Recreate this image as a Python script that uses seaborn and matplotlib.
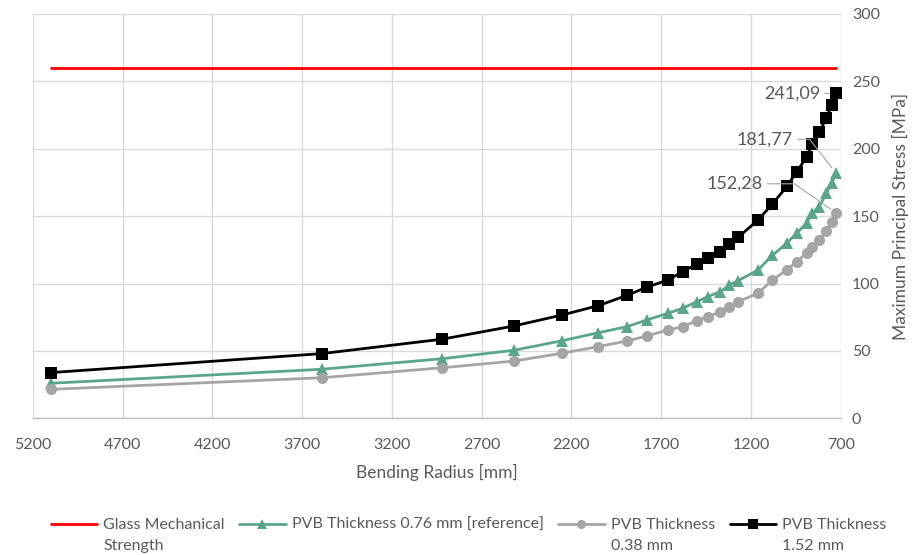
import numpy as np
import pandas as pd
import matplotlib
matplotlib.use('Agg')
import matplotlib.pyplot as plt
import seaborn as sns
from matplotlib.lines import Line2D

# =====================================
# Data
# =====================================
radius_mm = [5100, 3590, 2920, 2520, 2250, 2050, 1890, 1780, 1660, 1580,
             1500, 1440, 1370, 1320, 1270, 1160, 1080, 1000, 945, 890,
             860, 820, 780, 750, 725]

stress_076 = [26.0, 36.4, 44.2, 50.5, 57.6, 63.5, 68.0, 73.0, 78.0, 81.7,
              86.6, 90.3, 94.0, 99.0, 102.2, 110.1, 121.0, 130.0, 137.4, 144.8,
              152.2, 157.1, 167.0, 174.5, 181.77]

stress_038 = [21.5, 30.1, 37.5, 42.5, 48.3, 53.2, 57.4, 61.1, 65.6, 68.0,
              72.5, 75.4, 79.2, 82.9, 86.6, 92.8, 102.7, 110.1, 116.3, 122.5,
              127.4, 132.4, 139.0, 146.0, 152.28]

stress_152 = [33.9, 48.0, 58.7, 68.5, 76.7, 83.6, 91.2, 97.3, 102.7, 108.9,
              114.4, 119.0, 123.7, 129.4, 134.4, 147.2, 159.1, 172.0, 183.1, 193.7,
              203.7, 212.2, 222.8, 232.6, 241.09]

glass_strength = 260

x_ticks = [5200, 4700, 4200, 3700, 3200, 2700, 2200, 1700, 1200, 700]
y_ticks = [0, 50, 100, 150, 200, 250, 300]

df = pd.DataFrame({
    'Radius': radius_mm,
    'Glass': [glass_strength] * len(radius_mm),
    'PVB 0.76': stress_076,
    'PVB 0.38': stress_038,
    'PVB 1.52': stress_152,
})

# =====================================
# Plot
# =====================================
sns.set_style('white')
plt.rcParams['font.family'] = ['Lato', 'DejaVu Sans']

text_grey = '#595959'
grid_grey = '#d9d9d9'
red = '#ff0000'
green = '#5ba68a'
grey = '#a5a5a5'
black = '#000000'

fig = plt.figure(figsize=(9.17, 5.55), dpi=100)
ax = fig.add_axes([0.0357, 0.2463, 0.8811, 0.7285])

sns.lineplot(data=df, x='Radius', y='Glass', color=red, linewidth=2.0,
             ax=ax, sort=False)
sns.lineplot(data=df, x='Radius', y='PVB 0.76', color=green, linewidth=2.0,
             marker='^', markersize=9, markeredgewidth=0, ax=ax, sort=False)
sns.lineplot(data=df, x='Radius', y='PVB 0.38', color=grey, linewidth=2.0,
             marker='o', markersize=8, markeredgewidth=0, ax=ax, sort=False)
sns.lineplot(data=df, x='Radius', y='PVB 1.52', color=black, linewidth=2.0,
             marker='s', markersize=9, markeredgewidth=0, ax=ax, sort=False)

ax.set_xlim(5200, 700)
ax.set_ylim(0, 300)
ax.set_xticks(x_ticks)
ax.set_yticks(y_ticks)
ax.yaxis.tick_right()
ax.yaxis.set_label_position('right')
ax.grid(True, color=grid_grey, linewidth=1.0)
ax.set_axisbelow(True)
for side in ['top', 'left', 'right']:
    ax.spines[side].set_visible(False)
ax.spines['bottom'].set_color('#bfbfbf')
ax.spines['bottom'].set_linewidth(1.0)

ax.tick_params(axis='both', length=0, labelsize=11.5, labelcolor=text_grey)
ax.tick_params(axis='x', pad=14)
ax.tick_params(axis='y', pad=8)

ax.set_xlabel('Bending Radius [mm]', fontsize=12.5, color=text_grey, labelpad=9)
ax.set_ylabel('Maximum Principal Stress [MPa]', fontsize=12.5,
              color=text_grey, labelpad=9)

# Data labels for the last points
leader = dict(arrowstyle='-', color='#a6a6a6', lw=0.8, shrinkA=1, shrinkB=5)
ax.annotate('241,09', xy=(radius_mm[-1], stress_152[-1]), xytext=(815, 241),
            ha='right', va='center', fontsize=13, color=text_grey,
            arrowprops=leader)
ax.annotate('181,77', xy=(radius_mm[-1], stress_076[-1]), xytext=(965, 207),
            ha='right', va='center', fontsize=13, color=text_grey,
            arrowprops=dict(leader, connectionstyle='angle,angleA=0,angleB=128,rad=0'))
ax.annotate('152,28', xy=(radius_mm[-1], stress_038[-1]), xytext=(1135, 174),
            ha='right', va='center', fontsize=13, color=text_grey,
            arrowprops=dict(leader, connectionstyle='angle,angleA=0,angleB=145,rad=0'))

# Legend (second label lines as handle-less entries)
blank = Line2D([], [], color='none')
handles = [
    Line2D([], [], color=red, linewidth=2.0), blank,
    Line2D([], [], color=green, linewidth=2.0, marker='^', markersize=7, markeredgewidth=0), blank,
    Line2D([], [], color=grey, linewidth=2.0, marker='o', markersize=6.5, markeredgewidth=0), blank,
    Line2D([], [], color=black, linewidth=2.0, marker='s', markersize=6.5, markeredgewidth=0), blank,
]
labels = ['Glass Mechanical', 'Strength',
          'PVB Thickness 0.76 mm [reference]', '',
          'PVB Thickness', '0.38 mm',
          'PVB Thickness', '1.52 mm']
leg = fig.legend(handles, labels, loc='lower center', bbox_to_anchor=(0.511, -0.022),
                 ncol=4, frameon=False, fontsize=11.5, handlelength=2.9,
                 handletextpad=0.4, columnspacing=0.9, labelspacing=0.4)
for t in leg.get_texts():
    t.set_color(text_grey)

plt.savefig('out.png', dpi=100)
